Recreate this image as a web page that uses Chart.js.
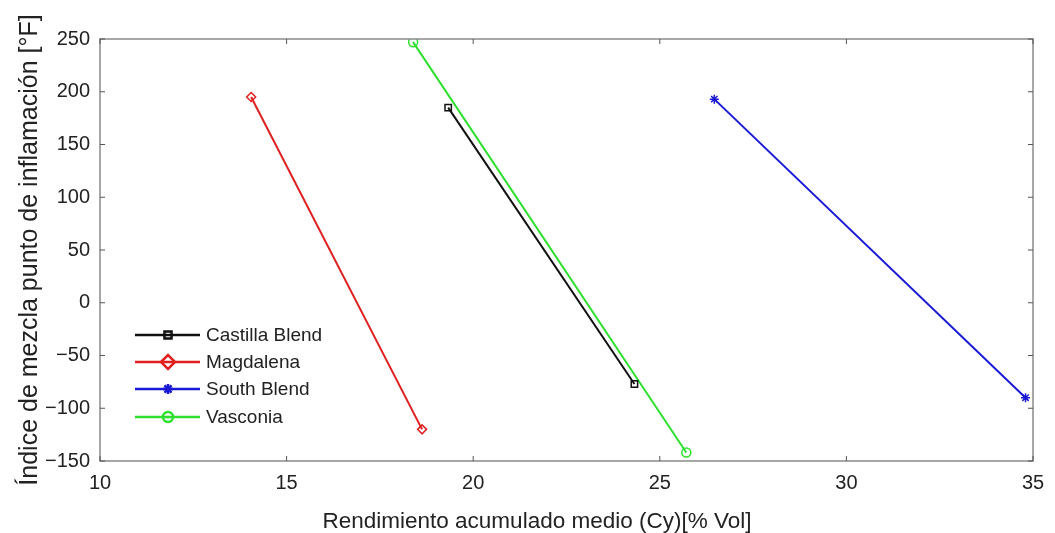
<!DOCTYPE html>
<html>
<head>
<meta charset="utf-8">
<script src="https://cdn.jsdelivr.net/npm/chart.js@4/dist/chart.umd.min.js"></script>
<style>
  html, body { margin: 0; padding: 0; background: #fff; }
  #wrap { width: 1055px; height: 533px; }
</style>
</head>
<body>
<div id="wrap"><canvas id="flashChart" width="1055" height="533"></canvas></div>
<script>
// Data (x = % Vol, y = °F)
const seriesNames = ["Castilla Blend", "Magdalena", "South Blend", "Vasconia"];
const castillaX = [19.33, 24.32], castillaY = [185, -77];
const magdalenaX = [14.05, 18.63], magdalenaY = [195, -120];
const southX = [26.46, 34.8], southY = [193, -90];
const vasconiaX = [18.39, 25.71], vasconiaY = [247, -142];

const xTitle = "Rendimiento acumulado medio (Cy)[% Vol]";
const yTitle = "Índice de mezcla punto de inflamación [°F]";

const fontFam = "'Liberation Sans', Arial, sans-serif";
const txtColor = "#222222";

function pts(xs, ys) {
  return xs.map((v, i) => ({ x: v, y: ys[i] }));
}

function makeSet(label, color, style, xs, ys, radius) {
  return {
    label: label,
    data: pts(xs, ys),
    borderColor: color,
    backgroundColor: "rgba(0,0,0,0)",
    borderWidth: 2,
    pointStyle: style,
    pointRadius: radius,
    pointBorderColor: color,
    pointBackgroundColor: style === "star" ? color : "rgba(0,0,0,0)",
    pointBorderWidth: 1.5,
    showLine: true,
    fill: false,
    tension: 0
  };
}

// matlab style minus sign on tick labels
function fmtTick(v) {
  return String(v).replace("-", "\u2212");
}

// frame + inward ticks like the matlab box, plus the x label
const framePlugin = {
  id: "frame",
  afterDraw(chart) {
    const { ctx, chartArea: a, scales } = chart;
    ctx.save();
    ctx.strokeStyle = "#8a8a8a";
    ctx.lineWidth = 1.5;
    ctx.strokeRect(a.left, a.top, a.right - a.left, a.bottom - a.top);
    ctx.lineWidth = 1;
    ctx.strokeStyle = "#555";
    const tl = 5;
    scales.x.ticks.forEach(t => {
      const px = scales.x.getPixelForValue(t.value);
      ctx.beginPath();
      ctx.moveTo(px, a.bottom); ctx.lineTo(px, a.bottom - tl);
      ctx.moveTo(px, a.top); ctx.lineTo(px, a.top + tl);
      ctx.stroke();
    });
    scales.y.ticks.forEach(t => {
      const py = scales.y.getPixelForValue(t.value);
      ctx.beginPath();
      ctx.moveTo(a.left, py); ctx.lineTo(a.left + tl, py);
      ctx.moveTo(a.right, py); ctx.lineTo(a.right - tl, py);
      ctx.stroke();
    });
    // x label sits a bit left of the axes centre in the original
    ctx.fillStyle = txtColor;
    ctx.font = "22.5px " + fontFam;
    ctx.textAlign = "center";
    ctx.textBaseline = "middle";
    ctx.fillText(xTitle, 537, 522);
    ctx.restore();
  }
};

// legend drawn inside the axes, lower left
const insideLegend = {
  id: "insideLegend",
  afterDraw(chart) {
    const ctx = chart.ctx;
    const x0 = 135, x1 = 200, xm = 168, tx = 206;
    const rows = [335, 362, 389, 417];
    ctx.save();
    ctx.font = "19px " + fontFam;
    ctx.textBaseline = "middle";
    chart.data.datasets.forEach((ds, i) => {
      const y = rows[i];
      ctx.strokeStyle = ds.borderColor;
      ctx.lineWidth = 2.5;
      ctx.beginPath();
      ctx.moveTo(x0, y); ctx.lineTo(x1, y);
      ctx.stroke();
      ctx.fillStyle = ds.pointBackgroundColor;
      ctx.strokeStyle = ds.borderColor;
      Chart.helpers.drawPoint(ctx, {
        pointStyle: ds.pointStyle,
        radius: ds.pointStyle === "rectRot" ? 7 : 5,
        borderWidth: 2.5
      }, xm, y);
      ctx.fillStyle = txtColor;
      ctx.fillText(ds.label, tx, y + 1);
    });
    ctx.restore();
  }
};

const flashChart = new Chart(document.getElementById("flashChart").getContext("2d"), {
  type: "scatter",
  data: {
    datasets: [
      makeSet(seriesNames[0], "#111111", "rect", castillaX, castillaY, 4.5),
      makeSet(seriesNames[1], "#e02020", "rectRot", magdalenaX, magdalenaY, 4.5),
      makeSet(seriesNames[2], "#1a1ad6", "star", southX, southY, 4.5),
      makeSet(seriesNames[3], "#2ee02e", "circle", vasconiaX, vasconiaY, 4.5)
    ]
  },
  options: {
    responsive: false,
    animation: false,
    layout: { padding: { top: 39, right: 22, left: 0, bottom: 0 } },
    plugins: {
      legend: { display: false },
      tooltip: { enabled: false }
    },
    scales: {
      x: {
        type: "linear",
        min: 10, max: 35,
        grid: { display: false, drawTicks: false },
        border: { display: false },
        ticks: { stepSize: 5, padding: 10, color: txtColor, font: { family: fontFam, size: 20 } },
        title: { display: false, text: xTitle },
        afterFit(scale) { scale.height = 72; }
      },
      y: {
        type: "linear",
        min: -150, max: 250,
        grid: { display: false, drawTicks: false },
        border: { display: false },
        ticks: { stepSize: 50, padding: 10, color: txtColor, callback: fmtTick,
                 font: { family: fontFam, size: 20 } },
        title: { display: true, text: yTitle, color: txtColor, padding: { top: 15, bottom: 0 },
                 font: { family: fontFam, size: 25 } },
        afterFit(scale) { scale.width = 100; }
      }
    }
  },
  plugins: [framePlugin, insideLegend]
});
</script>
</body>
</html>
